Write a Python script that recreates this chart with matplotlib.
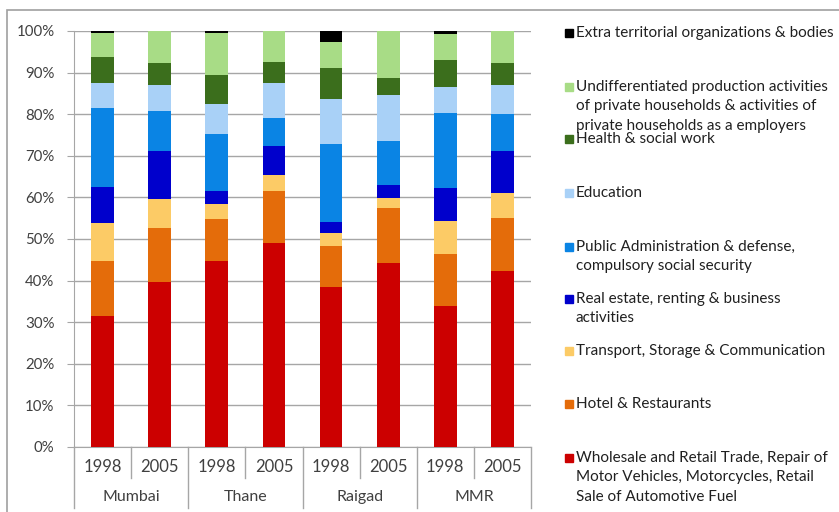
import matplotlib.pyplot as plt
from matplotlib.patches import Rectangle
from matplotlib.transforms import blended_transform_factory
import numpy as np

# data, stacked from bottom to top
regions = ["Mumbai", "Thane", "Raigad", "MMR"]
years = ["1998", "2005"]

wholesale = [31.5, 39.7, 44.7, 49.1, 38.5, 44.2, 33.9, 42.3]
hotel = [13.2, 12.9, 10.1, 12.5, 9.9, 13.2, 12.5, 12.7]
transport = [9.1, 6.9, 3.6, 3.8, 3.0, 2.5, 8.0, 6.0]
real_estate = [8.8, 11.7, 3.1, 7.0, 2.6, 3.2, 7.8, 10.2]
public_admin = [18.8, 9.6, 13.7, 6.6, 18.8, 10.5, 18.0, 8.8]
education = [6.0, 6.2, 7.3, 8.6, 10.8, 11.0, 6.3, 7.0]
health = [6.3, 5.4, 6.9, 5.0, 7.4, 4.0, 6.5, 5.4]
undiff = [5.8, 7.6, 10.1, 7.4, 6.4, 11.4, 6.2, 7.6]
extra = [0.5, 0.0, 0.5, 0.0, 2.6, 0.0, 0.8, 0.0]

series_names = [
    "Wholesale and Retail Trade, Repair of\nMotor Vehicles, Motorcycles, Retail\nSale of Automotive Fuel",
    "Hotel & Restaurants",
    "Transport, Storage & Communication",
    "Real estate, renting & business\nactivities",
    "Public Administration & defense,\ncompulsory social security",
    "Education",
    "Health & social work",
    "Undifferentiated production activities\nof private households & activities of\nprivate households as a employers",
    "Extra territorial organizations & bodies",
]
series = [wholesale, hotel, transport, real_estate, public_admin,
          education, health, undiff, extra]
colors = ["#CC0000", "#E46C0A", "#FCCB66", "#0000CC", "#0A84E4",
          "#A9D1F7", "#3B6E1C", "#A8DC86", "#000000"]

plt.rcParams['font.family'] = ['Lato', 'DejaVu Sans']
text_col = "#404040"
grid_col = "#A6A6A6"

fig = plt.figure(figsize=(8.39, 5.12), dpi=100)
ax = fig.add_axes([74/839, 1 - 447/512, (531 - 74)/839, (447 - 31)/512])

x = np.arange(len(regions) * len(years))
bottom = np.zeros(len(x))
for vals, col in zip(series, colors):
    vals = np.array(vals)
    ax.bar(x, vals, width=0.4, bottom=bottom, color=col, zorder=3)
    bottom += vals

ax.set_xlim(-0.5, len(x) - 0.5)
ax.set_ylim(0, 100)
ax.set_yticks(np.arange(0, 101, 10))
ax.set_yticklabels([f"{v}%" for v in range(0, 101, 10)], fontsize=10.8, color=text_col)
ax.yaxis.grid(True, color=grid_col, linewidth=1)
ax.tick_params(axis='y', length=5, color=grid_col, pad=9)
for s in ["top", "right"]:
    ax.spines[s].set_visible(False)
ax.spines["left"].set_color(grid_col)
ax.spines["bottom"].set_color(grid_col)

# two level category axis
ax.set_xticks(x)
ax.set_xticklabels(years * len(regions), fontsize=12, color=text_col)
ax.tick_params(axis='x', length=0, pad=9)
trans = blended_transform_factory(ax.transData, ax.transAxes)
for k in range(len(x) + 1):
    xb = k - 0.5
    low = -61/416 if k % 2 == 0 else -31/416
    ax.plot([xb, xb], [0, low], transform=trans, color=grid_col, lw=1, clip_on=False)
for i, r in enumerate(regions):
    ax.text(2*i + 0.5, -49.7/416, r, transform=trans, ha='center', va='center',
            fontsize=11.5, color=text_col)

# legend drawn by hand, top entry first
legend_y = [457.7, 404.3, 351, 299, 246.7, 193.3, 139.3, 86.7, 33.3]
for name, col, y0 in zip(series_names, colors, legend_y):
    fig.patches.append(Rectangle((565/839, 1 - (y0 + 4)/512), 8/839, 8/512,
                                 transform=fig.transFigure, color=col))
    for j, line in enumerate(name.split("\n")):
        fig.text(576/839, 1 - (y0 + j*19.5)/512, line, ha='left', va='center',
                 fontsize=11.0, color="#202020")

# outer frame
fig.patches.append(Rectangle((7/839, -0.05), 1.1, 1.05 - 10/512, fill=False,
                             transform=fig.transFigure, edgecolor="#A0A0A0", lw=1.2))

plt.savefig("out.png", dpi=100)
